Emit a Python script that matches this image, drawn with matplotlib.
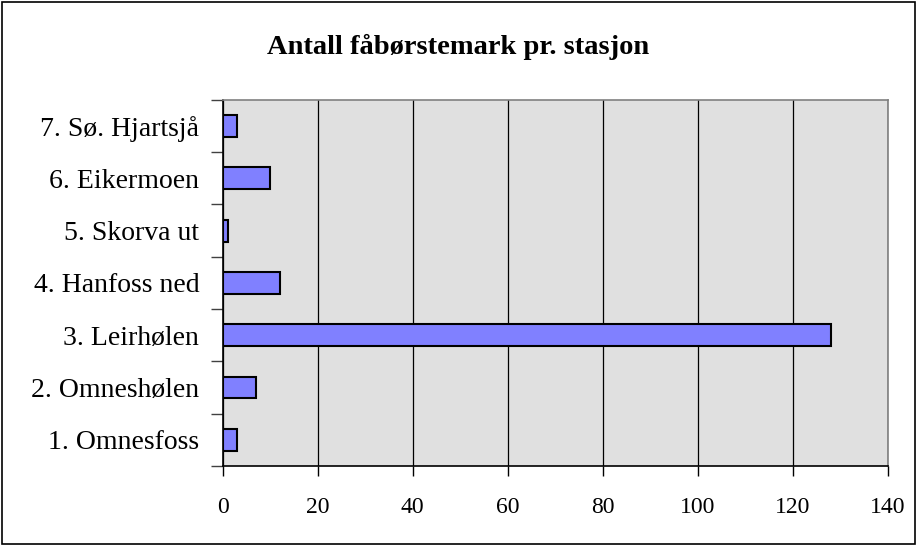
import numpy as np
import matplotlib
matplotlib.use("Agg")
import matplotlib.pyplot as plt
from matplotlib.patches import Rectangle

# Data
stasjoner = ["1. Omnesfoss", "2. Omneshølen", "3. Leirhølen", "4. Hanfoss ned",
             "5. Skorva ut", "6. Eikermoen", "7. Sø. Hjartsjå"]
antall = [3, 7, 128, 12, 1, 10, 3]
xticks = [0, 20, 40, 60, 80, 100, 120, 140]

plt.rcParams['font.family'] = ['Liberation Serif', 'DejaVu Serif']

fig = plt.figure(figsize=(9.17, 5.45), dpi=100)
fig.patches.append(Rectangle((0.002, 0.002), 0.996, 0.994, transform=fig.transFigure,
                             fill=False, edgecolor='black', linewidth=1.2))

ax = fig.add_axes([0.243, 0.145, 0.725, 0.672])
ax.set_facecolor('#e0e0e0')

y = np.arange(len(stasjoner))
ax.barh(y, antall, height=0.42, color='#8080ff', edgecolor='black', linewidth=1.5, zorder=3)

ax.set_xlim(0, 140)
ax.set_ylim(-0.5, len(stasjoner) - 0.5)
ax.set_xticks(xticks)
ax.set_xticklabels([str(v) for v in xticks], fontsize=17)
ax.xaxis.grid(True, color='black', linewidth=0.9, zorder=1)

# kategorinavn midt i feltet, tick-merker på grensene
ax.set_yticks(y)
ax.set_yticklabels(stasjoner, fontsize=20)
ax.tick_params(axis='y', which='major', length=0, pad=17)
ax.set_yticks(np.arange(-0.5, len(stasjoner)), minor=True)
ax.tick_params(axis='y', which='minor', length=9, width=1, color='#404040', direction='out')
ax.tick_params(axis='x', length=7, width=1, direction='out', pad=15)

for s in ['left', 'bottom']:
    ax.spines[s].set_color('black')
    ax.spines[s].set_linewidth(1.2)
for s in ['top', 'right']:
    ax.spines[s].set_color('#808080')
    ax.spines[s].set_linewidth(1.2)

fig.text(0.5, 0.913, "Antall fåbørstemark pr. stasjon", ha='center', va='center',
         fontsize=20.5, fontweight='bold')

fig.savefig("out.png", dpi=100)
